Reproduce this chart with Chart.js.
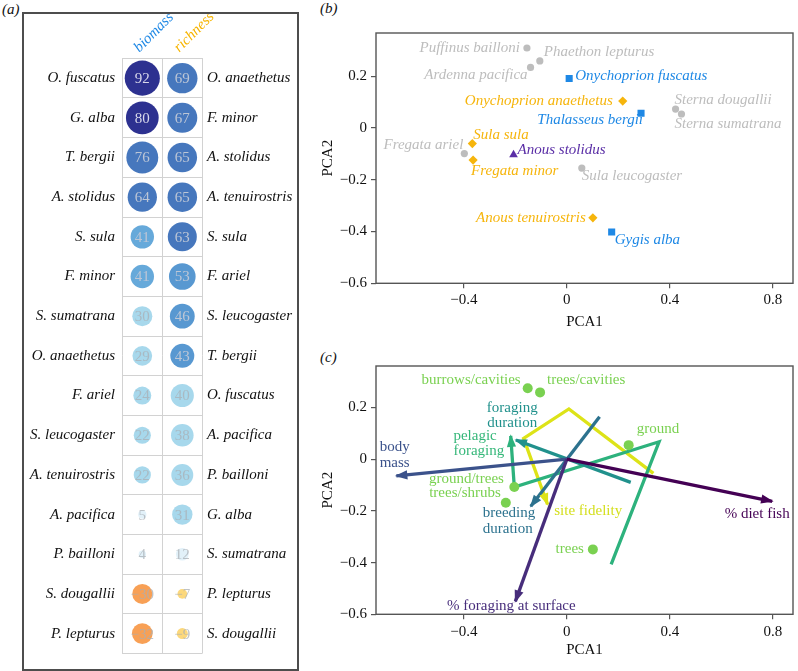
<!DOCTYPE html>
<html><head><meta charset="utf-8">
<script src="https://cdn.jsdelivr.net/npm/chart.js@4.4.1/dist/chart.umd.min.js"></script>
<style>
body{margin:0;width:798px;height:671px;background:#fff;position:relative;overflow:hidden;font-family:'Liberation Serif',serif}
canvas{position:absolute}
.tag{position:absolute;font:italic 15px 'Liberation Serif',serif;color:#111;line-height:18px}
#frame{position:absolute;left:22px;top:12px;width:273px;height:655px;border:2px solid #4d4d4d;pointer-events:none}
</style></head><body>
<div class="tag" style="left:2px;top:0px">(a)</div>
<div class="tag" style="left:320px;top:-1px">(b)</div>
<div class="tag" style="left:320px;top:348px">(c)</div>
<canvas id="ca" width="300" height="671" style="left:0;top:0"></canvas>
<div id="frame"></div>
<canvas id="cb" width="498" height="335" style="left:300px;top:0"></canvas>
<canvas id="cc" width="498" height="336" style="left:300px;top:335px"></canvas>
<script>
// ---------- DATA ----------
// panel (a)
const columnLabels = ['biomass', 'richness'];
const biomassSpecies = ['O. fuscatus','G. alba','T. bergii','A. stolidus','S. sula','F. minor','S. sumatrana','O. anaethetus','F. ariel','S. leucogaster','A. tenuirostris','A. pacifica','P. bailloni','S. dougallii','P. lepturus'];
const biomassValues = [92,80,76,64,41,41,30,29,24,22,22,5,4,-30,-32];
const richnessSpecies = ['O. anaethetus','F. minor','A. stolidus','A. tenuirostris','S. sula','F. ariel','S. leucogaster','T. bergii','O. fuscatus','A. pacifica','P. bailloni','G. alba','S. sumatrana','P. lepturus','S. dougallii'];
const richnessValues = [69,67,65,65,63,53,46,43,40,38,36,31,12,-7,-9];

// panel (b)
const pcaSpecies = ['Puffinus bailloni','Phaethon lepturus','Ardenna pacifica','Onychoprion fuscatus','Onychoprion anaethetus','Thalasseus bergii','Sterna dougallii','Sterna sumatrana','Sula sula','Fregata ariel','Fregata minor','Anous stolidus','Sula leucogaster','Anous tenuirostris','Gygis alba'];
const pcaX = [-0.155,-0.105,-0.141,0.009,0.217,0.288,0.422,0.445,-0.367,-0.398,-0.364,-0.207,0.058,0.101,0.174];
const pcaY = [0.309,0.259,0.234,0.191,0.104,0.057,0.073,0.054,-0.060,-0.099,-0.124,-0.103,-0.155,-0.347,-0.402];
const pcaGroup = ['none','none','none','biomass','richness','biomass','none','none','richness','none','richness','both','none','richness','biomass'];

// panel (c)
const traitNames = ['% diet fish','% foraging at surface','body mass','breeding duration','foraging duration','pelagic foraging','site fidelity'];
const traitPathX = [[0,0.797],[0,-0.2],[0,-0.662],[0.127,-0.14],[0.248,-0.198],[0.172,0.358,-0.204,-0.218],[0.336,0.008,-0.168,-0.075]];
const traitPathY = [[0,-0.163],[0,-0.55],[0,-0.065],[0.164,-0.182],[-0.090,0.074],[-0.407,0.067,-0.108,0.09],[-0.055,0.194,0.080,-0.175]];
const nestNames = ['burrows/cavities','trees/cavities','ground','ground/trees','trees/shrubs','trees'];
const nestX = [-0.152,-0.104,0.240,-0.204,-0.237,0.101];
const nestY = [0.274,0.258,0.054,-0.108,-0.169,-0.349];

// shared axis ticks
const pcaXTicks = [-0.4, 0, 0.4, 0.8];
const pcaYTicks = [-0.6, -0.4, -0.2, 0, 0.2];

// ---------- STYLE ----------
const SERIF = "'Liberation Serif','Times New Roman',serif";
function cellColor(v){
  if (v >= 78) return '#2d3190';
  if (v >= 60) return '#4677bd';
  if (v >= 43) return '#5898d1';
  if (v >= 41) return '#66a9da';
  if (v >= 20) return '#a7d8ec';
  if (v >= 0) return '#e2f1f9';
  if (v > -20) return '#fcd87c';
  return '#f8a055';
}
function bubbleR(v){ return 1.83 * Math.sqrt(Math.abs(v)); }
function fmtNum(v){ return (v < 0 ? '\u2212' : '') + Math.abs(v); }

const cellText = {
  id: 'cellText',
  afterDatasetsDraw(chart){
    const ctx = chart.ctx;
    chart.data.datasets.forEach((ds, di) => {
      chart.getDatasetMeta(di).data.forEach((el, i) => {
        const v = ds.values[i];
        ctx.save();
        ctx.font = '15px ' + SERIF;
        ctx.textAlign = 'center'; ctx.textBaseline = 'middle';
        ctx.fillStyle = v >= 78 ? '#d8d8ea' : (v >= 41 ? '#bcc6d6' : 'rgba(170,175,180,0.75)');
        ctx.fillText(fmtNum(v), el.x, el.y + 1);
        ctx.restore();
      });
    });
  }
};

const boxPlugin = {
  id: 'box',
  afterDraw(chart){
    const a = chart.chartArea, ctx = chart.ctx;
    ctx.save();
    ctx.strokeStyle = '#555'; ctx.lineWidth = 1.4;
    ctx.strokeRect(a.left, a.top, a.right - a.left, a.bottom - a.top);
    ctx.restore();
  }
};

const arrowPlugin = {
  id: 'arrows',
  afterDatasetsDraw(chart){
    const ctx = chart.ctx;
    chart.data.datasets.forEach((ds, di) => {
      if (!ds.arrow) return;
      const pts = chart.getDatasetMeta(di).data;
      const a = pts[pts.length - 2], b = pts[pts.length - 1];
      const ang = Math.atan2(b.y - a.y, b.x - a.x);
      const L = 11, W = 4.6, c = Math.cos(ang), s = Math.sin(ang);
      ctx.save();
      ctx.fillStyle = ds.borderColor;
      ctx.beginPath();
      ctx.moveTo(b.x + 1.5 * c, b.y + 1.5 * s);
      ctx.lineTo(b.x - L * c + W * s, b.y - L * s - W * c);
      ctx.lineTo(b.x - L * c - W * s, b.y - L * s + W * c);
      ctx.closePath();
      ctx.fill();
      ctx.restore();
    });
  }
};

const textPlugin = {
  id: 'textLabels',
  afterDatasetsDraw(chart){
    const ctx = chart.ctx;
    chart.data.datasets.forEach((ds, di) => {
      if (!ds.textLabels) return;
      const meta = chart.getDatasetMeta(di);
      ds.textLabels.forEach(L => {
        const el = meta.data[L.at];
        if (!el) return;
        ctx.save();
        ctx.font = L.font; ctx.fillStyle = L.color;
        ctx.textAlign = L.align; ctx.textBaseline = 'middle';
        L.lines.forEach((t, k) => ctx.fillText(t, el.x + L.dx, el.y + L.dy + k * 15.4));
        ctx.restore();
      });
    });
  }
};

// ---------- PANEL (a) ----------
new Chart(document.getElementById('ca'), {
  type: 'bubble',
  data: {
    datasets: [
      { label: 'biomass', values: biomassValues,
        data: biomassValues.map((v, i) => ({ x: columnLabels[0], y: biomassSpecies[i], r: bubbleR(v) })),
        backgroundColor: biomassValues.map(cellColor), borderWidth: 0, yAxisID: 'y' },
      { label: 'richness', values: richnessValues,
        data: richnessValues.map((v, i) => ({ x: columnLabels[1], y: richnessSpecies[i], r: bubbleR(v) })),
        backgroundColor: richnessValues.map(cellColor), borderWidth: 0, yAxisID: 'y2' }
    ]
  },
  options: {
    responsive: false, animation: false, devicePixelRatio: 1, events: [],
    layout: { padding: { top: 0, left: 0, right: 0, bottom: 7.7 } },
    plugins: { legend: { display: false }, tooltip: { enabled: false } },
    scales: {
      x: { type: 'category', labels: columnLabels, position: 'top', offset: true,
        grid: { offset: true, color: '#d2d2d2', lineWidth: 1, drawTicks: false },
        border: { display: false },
        ticks: { autoSkip: false, minRotation: 45, maxRotation: 45, padding: 2, labelOffset: 7,
          color: c => c.index === 0 ? '#1e88e5' : '#f7b500',
          font: { family: SERIF, style: 'italic', size: 15 } },
        afterFit: s => { s.height = 58.3; } },
      y: { type: 'category', labels: biomassSpecies, position: 'left', offset: true,
        grid: { offset: true, color: '#d2d2d2', lineWidth: 1, drawTicks: false },
        border: { display: false },
        ticks: { autoSkip: false, padding: 7.3, color: '#111', font: { family: SERIF, style: 'italic', size: 15 } },
        afterFit: s => { s.width = 122.3; } },
      y2: { type: 'category', labels: richnessSpecies, position: 'right', offset: true,
        grid: { display: false, drawTicks: false },
        border: { display: false },
        ticks: { autoSkip: false, padding: 4.7, color: '#111', font: { family: SERIF, style: 'italic', size: 15 } },
        afterFit: s => { s.width = 97.7; } }
    }
  },
  plugins: [cellText]
});

// ---------- shared PCA axes ----------
function pcaScales(xmin, xmax, ymin, ymax, xHeight, xTitlePad, xTickPad){
  const tickFont = { family: SERIF, size: 15 };
  return {
    x: { type: 'linear', min: xmin, max: xmax,
      afterBuildTicks: s => { s.ticks = pcaXTicks.map(v => ({ value: v })); },
      grid: { drawOnChartArea: false, drawTicks: true, tickLength: 5, color: '#555', lineWidth: 1.2 },
      border: { display: false },
      ticks: { padding: xTickPad, color: '#111', font: tickFont, callback: v => fmtNum(v) },
      title: { display: true, text: 'PCA1', color: '#111', font: tickFont, padding: { top: 0, bottom: xTitlePad } },
      afterFit: s => { s.height = xHeight; } },
    y: { type: 'linear', min: ymin, max: ymax,
      afterBuildTicks: s => { s.ticks = pcaYTicks.map(v => ({ value: v })); },
      grid: { drawOnChartArea: false, drawTicks: true, tickLength: 5, color: '#555', lineWidth: 1.2 },
      border: { display: false },
      ticks: { padding: 4, color: '#111', font: tickFont, callback: v => fmtNum(v) },
      title: { display: true, text: 'PCA2', color: '#111', font: tickFont, padding: { top: 19.3, bottom: 0 } },
      afterFit: s => { s.width = 76; } }
  };
}

// ---------- PANEL (b) ----------
const groupStyle = {
  none:     { color: '#bdbdbd', shape: 'circle',   r: 3.6 },
  biomass:  { color: '#1e88e5', shape: 'rect',     r: 5 },
  richness: { color: '#f6b50c', shape: 'rectRot',  r: 4.6 },
  both:     { color: '#5a2ea6', shape: 'triangle', r: 5 }
};
const pcaLabelPos = [
  [-7, 0, 'right'], [4, -8.6, 'left'], [-3, 7.3, 'right'], [6, -2, 'left'], [-10, 0, 'right'],
  [2, 7.3, 'right'], [-1, -9, 'left'], [-7, 10, 'left'], [1, -8.7, 'left'], [-1, -9, 'right'],
  [-2, 11.4, 'left'], [4, -4.7, 'left'], [0, 7.7, 'left'], [-7, 0, 'right'], [3, 8, 'left']
];
const bDatasets = Object.keys(groupStyle).map(g => {
  const idx = pcaGroup.map((gg, i) => gg === g ? i : -1).filter(i => i >= 0);
  const st = groupStyle[g];
  return {
    label: g,
    data: idx.map(i => ({ x: pcaX[i], y: pcaY[i] })),
    pointStyle: st.shape, pointRadius: st.r, backgroundColor: st.color, borderColor: st.color, borderWidth: 0,
    textLabels: idx.map((i, k) => ({ at: k, lines: [pcaSpecies[i]], dx: pcaLabelPos[i][0], dy: pcaLabelPos[i][1],
      align: pcaLabelPos[i][2], color: st.color, font: 'italic 15px ' + SERIF }))
  };
});
new Chart(document.getElementById('cb'), {
  type: 'scatter',
  data: { datasets: bDatasets },
  options: {
    responsive: false, animation: false, devicePixelRatio: 1, events: [],
    layout: { padding: { top: 33, left: 0, right: 1, bottom: 0 } },
    plugins: { legend: { display: false }, tooltip: { enabled: false } },
    scales: pcaScales(-0.741, 0.878, -0.6, 0.367, 51.7, 4.3, 3)
  },
  plugins: [boxPlugin, textPlugin]
});

// ---------- PANEL (c) ----------
const traitColors = ['#440154', '#472d7b', '#3b528b', '#2c728e', '#21918c', '#2db27d', '#dde318'];
const traitLabelColors = ['#440154', '#472d7b', '#3b528b', '#2c728e', '#21918c', '#35b779', '#d4df1c'];
const traitLabelPos = [
  [-15, 12.3, 'center', false], [-4, 5, 'center', false], [-16.7, -28.4, 'left', true],
  [-48, 7.3, 'left', true], [-3.6, -32.3, 'center', true], [-57.3, 0, 'left', true], [6.7, 6.7, 'left', false]
];
const nestColor = '#7ad151';
const nestLabelPos = [[-7, -8.3, 'right'], [7, -12.3, 'left'], [8, -15.7, 'left'], [-10.4, -8, 'right'], [-5, -9.4, 'right'], [-9, 0, 'right']];

const cDatasets = [{
  label: 'nesting',
  data: nestX.map((x, i) => ({ x, y: nestY[i] })),
  pointRadius: 5, backgroundColor: nestColor, borderWidth: 0,
  textLabels: nestNames.map((n, i) => ({ at: i, lines: [n], dx: nestLabelPos[i][0], dy: nestLabelPos[i][1],
    align: nestLabelPos[i][2], color: nestColor, font: '15px ' + SERIF }))
}].concat(traitNames.map((n, t) => ({
  label: n,
  data: traitPathX[t].map((x, k) => ({ x, y: traitPathY[t][k] })),
  showLine: true, pointRadius: 0, borderColor: traitColors[t], backgroundColor: traitColors[t],
  borderWidth: 3.3, borderCapStyle: 'butt', borderJoinStyle: 'miter', arrow: true,
  textLabels: [{ at: traitPathX[t].length - 1, lines: traitLabelPos[t][3] ? n.split(' ') : [n],
    dx: traitLabelPos[t][0], dy: traitLabelPos[t][1], align: traitLabelPos[t][2],
    color: traitLabelColors[t], font: '15px ' + SERIF }]
})));

new Chart(document.getElementById('cc'), {
  type: 'scatter',
  data: { datasets: cDatasets },
  options: {
    responsive: false, animation: false, devicePixelRatio: 1, events: [],
    layout: { padding: { top: 31, left: 0, right: 1, bottom: 0 } },
    plugins: { legend: { display: false }, tooltip: { enabled: false } },
    scales: pcaScales(-0.741, 0.878, -0.6, 0.360, 56.7, 12, 3.4)
  },
  plugins: [boxPlugin, arrowPlugin, textPlugin]
});
</script>
</body></html>
